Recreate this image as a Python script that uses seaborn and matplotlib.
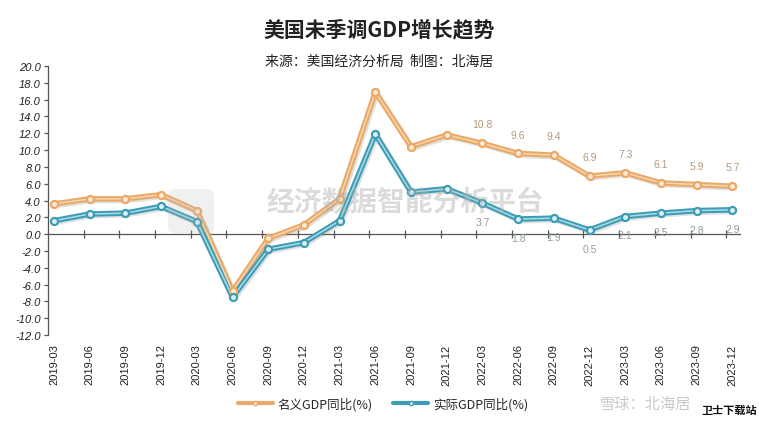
import numpy as np
import pandas as pd
import matplotlib
matplotlib.use("Agg")
import matplotlib.pyplot as plt
import matplotlib.patheffects as pe
from matplotlib.lines import Line2D
from matplotlib.patches import FancyBboxPatch
import seaborn as sns

periods = ['2019-03', '2019-06', '2019-09', '2019-12', '2020-03', '2020-06', '2020-09', '2020-12',
           '2021-03', '2021-06', '2021-09', '2021-12', '2022-03', '2022-06', '2022-09', '2022-12',
           '2023-03', '2023-06', '2023-09', '2023-12']
nominal = [3.6, 4.2, 4.2, 4.7, 2.8, -6.8, -0.5, 1.1, 4.2, 16.9, 10.4, 11.8, 10.8, 9.6, 9.4, 6.9,
           7.3, 6.1, 5.9, 5.7]
real = [1.6, 2.4, 2.5, 3.3, 1.5, -7.5, -1.8, -1.0, 1.6, 11.9, 5.0, 5.4, 3.7, 1.8, 1.9, 0.5,
        2.1, 2.5, 2.8, 2.9]
label_start = 12
series_names = ['名义GDP同比(%)', '实际GDP同比(%)']
yticks = list(range(-12, 21, 2))

sns.set_theme(style='white')
plt.rcParams['font.family'] = ['Noto Sans CJK SC', 'DejaVu Sans']
plt.rcParams['axes.unicode_minus'] = False

fig = plt.figure(figsize=(7.59, 4.27), dpi=100)
ax = fig.add_axes([0.0632, 0.213, 0.912, 0.630])

idx = np.arange(len(periods))
df = pd.DataFrame({'idx': np.concatenate([idx, idx]),
                   'value': nominal + real,
                   'series': [series_names[0]] * len(idx) + [series_names[1]] * len(idx)})

main_col = {series_names[0]: '#EAA968', series_names[1]: '#3E9CB4'}
hi_col = {series_names[0]: '#F7D6AE', series_names[1]: '#A9DCE8'}
face_col = {series_names[0]: '#FBEBD8', series_names[1]: '#DDF1F6'}

for name in series_names:
    sub = df[df['series'] == name]
    sns.lineplot(data=sub, x='idx', y='value', color=main_col[name], lw=4.0, ax=ax,
                 legend=False, zorder=3)
    ln = ax.lines[-1]
    ln.set_path_effects([pe.SimpleLineShadow(offset=(1.2, -1.2), shadow_color='#888888', alpha=0.25),
                         pe.Normal()])
    ln.set_solid_joinstyle('round')
    sns.lineplot(data=sub, x='idx', y='value', color=hi_col[name], lw=1.1, ax=ax,
                 legend=False, zorder=4)
    sns.scatterplot(data=sub, x='idx', y='value', color=face_col[name], edgecolor=main_col[name],
                    linewidth=1.6, s=26, ax=ax, legend=False, zorder=5)

# value labels
for i in range(label_start, len(periods)):
    ax.annotate(f'{nominal[i]:.1f}', (i, nominal[i]), xytext=(0, 10), textcoords='offset points',
                ha='center', va='bottom', fontsize=7.5, color='#B49A7C', family='Liberation Sans')
    ax.annotate(f'{real[i]:.1f}', (i, real[i]), xytext=(0, -10), textcoords='offset points',
                ha='center', va='top', fontsize=7.5, color='#8E9CA0', family='Liberation Sans')

ax.set_xlim(-0.17, 19.22)
ax.set_ylim(-12, 20)
ax.set_yticks(yticks)
ax.set_yticklabels([f'{v:.1f}' for v in yticks], fontsize=8, style='italic',
                   family='Liberation Sans', color='#222222')
ax.set_xlabel('')
ax.set_ylabel('')
for s in ['top', 'right']:
    ax.spines[s].set_visible(False)
ax.spines['left'].set_color('#555555')
ax.spines['left'].set_linewidth(0.9)
ax.spines['bottom'].set_position(('data', 0))
ax.spines['bottom'].set_color('#555555')
ax.spines['bottom'].set_linewidth(0.9)
ax.set_xticks([i - 0.17 for i in range(1, len(periods))])
ax.set_xticklabels([])
ax.tick_params(axis='x', direction='inout', length=6, width=0.9, color='#555555', bottom=True)
ax.tick_params(axis='y', direction='out', length=3, width=0.9, color='#555555', left=True, pad=2)

sec = ax.secondary_xaxis('bottom')
sec.set_xticks(idx)
sec.set_xticklabels(periods, rotation=90, fontsize=8, family='Liberation Sans', color='#222222')
sec.tick_params(length=0, pad=6)
sec.spines['bottom'].set_visible(False)

# watermark
fig.patches.append(FancyBboxPatch((168 / 759, 1 - 234 / 427), 46 / 759, 44 / 427,
                                  boxstyle='round,pad=0,rounding_size=0.012',
                                  transform=fig.transFigure, facecolor='#BBBBBB', alpha=0.22,
                                  edgecolor='none', zorder=0))
fig.text(405 / 759, 1 - 203 / 427, '经济数据智能分析平台', fontsize=20, color='#B0B0B0', alpha=0.45,
         ha='center', va='center', weight='bold', zorder=10)

fig.text(0.5, 1 - 30 / 427, '美国未季调GDP增长趋势', fontsize=15, weight='bold', ha='center',
         va='center', color='#222222')
fig.text(0.5, 1 - 62 / 427, '来源：美国经济分析局  制图：北海居', fontsize=10, ha='center',
         va='center', color='#222222')

handles = [Line2D([0], [0], color=main_col[n], lw=3, marker='o', markersize=3,
                  markerfacecolor=face_col[n], markeredgecolor=main_col[n]) for n in series_names]
fig.legend(handles, series_names, loc='center', bbox_to_anchor=(383 / 759, 1 - 405 / 427), ncol=2,
           frameon=False, fontsize=9, handlelength=2.8, columnspacing=1.6, handletextpad=0.4)

fig.text(646 / 759, 1 - 404 / 427, '雪球：北海居', fontsize=11, color='#BBBBBB', ha='center',
         va='center', alpha=0.8)
fig.text(729 / 759, 1 - 410 / 427, '卫士下载站', fontsize=8, color='#111111', weight='bold',
         ha='center', va='center')

fig.savefig('out.png', dpi=100)
